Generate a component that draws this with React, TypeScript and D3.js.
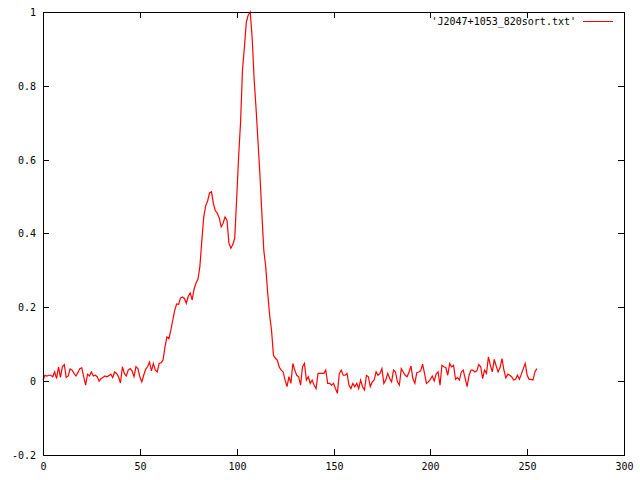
import React from 'react'
import * as d3 from 'd3'

// normalised pulse profile, one value per bin (bin = index)
const intensity: number[] = [
  0.003, 0.016, 0.014, 0.016, 0.016, 0.012, 0.025, 0.007, 0.039, 0.010,
  0.039, 0.045, 0.010, 0.014, 0.033, 0.030, 0.021, 0.014, 0.023, 0.034,
  0.036, 0.012, -0.011, 0.019, 0.014, 0.025, 0.014, 0.016, 0.012, 0.000,
  0.007, 0.010, 0.014, 0.012, 0.015, 0.019, 0.010, 0.025, 0.021, 0.012,
  -0.005, 0.039, 0.021, 0.014, 0.030, 0.034, 0.028, 0.012, 0.039, 0.034,
  0.012, -0.002, 0.016, 0.032, 0.039, 0.052, 0.028, 0.048, 0.030, 0.025,
  0.048, 0.050, 0.057, 0.093, 0.120, 0.115, 0.138, 0.165, 0.192, 0.209,
  0.208, 0.225, 0.228, 0.224, 0.211, 0.230, 0.239, 0.220, 0.249, 0.266,
  0.276, 0.310, 0.380, 0.445, 0.475, 0.488, 0.510, 0.513, 0.480, 0.462,
  0.455, 0.442, 0.418, 0.428, 0.445, 0.436, 0.374, 0.360, 0.370, 0.387,
  0.495, 0.607, 0.700, 0.843, 0.905, 0.973, 0.992, 1.000, 0.930, 0.820,
  0.740, 0.650, 0.560, 0.455, 0.355, 0.310, 0.240, 0.180, 0.138, 0.070,
  0.062, 0.057, 0.038, 0.030, 0.025, 0.003, -0.015, 0.012, -0.006, 0.048,
  0.030, 0.016, 0.012, -0.011, 0.039, 0.048, 0.003, 0.012, -0.006, 0.003,
  -0.011, -0.020, 0.021, 0.021, 0.021, 0.021, 0.030, -0.006, -0.006, -0.011,
  -0.006, -0.020, -0.033, 0.021, 0.030, 0.016, 0.016, 0.021, -0.011, -0.020,
  -0.006, -0.015, -0.006, -0.020, 0.003, -0.015, -0.024, 0.016, 0.012, -0.015,
  -0.002, 0.003, 0.025, 0.016, 0.021, 0.034, -0.006, 0.003, 0.021, 0.007,
  -0.002, 0.030, 0.025, -0.002, -0.011, 0.034, 0.025, 0.016, 0.012, 0.025,
  0.041, 0.007, -0.006, 0.023, 0.025, 0.028, 0.046, 0.021, -0.006, -0.002,
  0.005, 0.014, 0.001, 0.019, 0.025, -0.011, 0.043, 0.039, 0.037, 0.016,
  0.048, 0.039, 0.043, 0.005, 0.010, 0.003, 0.025, 0.030, 0.007, -0.015,
  0.016, 0.030, 0.030, 0.025, 0.028, 0.045, 0.039, 0.007, 0.030, 0.021,
  0.066, 0.043, 0.025, 0.059, 0.041, 0.025, 0.037, 0.061, 0.030, 0.009,
  0.019, 0.016, 0.012, 0.003, 0.005, 0.016, 0.005, 0.019, 0.034, 0.048,
  0.016, 0.005, 0.005, 0.003, 0.025, 0.034,
]

const xTicks = [0, 50, 100, 150, 200, 250, 300]
const yTicks = [-0.2, 0, 0.2, 0.4, 0.6, 0.8, 1]
const seriesTitle = "'J2047+1053_820sort.txt'"

const ProfileChart = () => {
  const svgRef = React.useRef<SVGSVGElement>(null)
  const width = 640
  const height = 480
  const left = 43
  const right = 624
  const top = 12
  const bottom = 455
  const font = '"DejaVu Sans Mono", monospace'

  React.useEffect(() => {
    const svg = d3.select(svgRef.current)
    svg.selectAll('*').remove()

    const x = d3.scaleLinear().domain([0, 300]).range([left, right])
    const y = d3.scaleLinear().domain([-0.2, 1]).range([bottom, top])

    svg.append('rect')
      .attr('width', width)
      .attr('height', height)
      .attr('fill', 'white')

    const tickLen = 6

    // y ticks on both sides (mirrored)
    const yt = svg.append('g')
    yTicks.forEach((t) => {
      const py = Math.round(y(t)) + 0.5
      yt.append('line').attr('x1', left).attr('x2', left + tickLen).attr('y1', py).attr('y2', py)
      yt.append('line').attr('x1', right - tickLen).attr('x2', right).attr('y1', py).attr('y2', py)
      yt.append('text')
        .attr('x', 36)
        .attr('y', py)
        .attr('dy', '0.35em')
        .attr('text-anchor', 'end')
        .text(d3.format('~g')(t).replace('−', '-'))
    })

    const xt = svg.append('g')
    xTicks.forEach((t) => {
      const px = Math.round(x(t)) + 0.5
      xt.append('line').attr('x1', px).attr('x2', px).attr('y1', bottom).attr('y2', bottom - tickLen)
      xt.append('line').attr('x1', px).attr('x2', px).attr('y1', top).attr('y2', top + tickLen)
      xt.append('text')
        .attr('x', px)
        .attr('y', 470)
        .attr('text-anchor', 'middle')
        .text(t)
    })

    svg.selectAll('line').attr('stroke', 'black').attr('stroke-width', 1)
    svg.selectAll('text')
      .style('font-family', font)
      .style('font-size', '10px')
      .attr('fill', 'black')

    const line = d3.line<number>()
      .x((_, i) => x(i))
      .y((d) => y(d))

    svg.append('path')
      .datum(intensity)
      .attr('d', line)
      .attr('fill', 'none')
      .attr('stroke', '#ff0000')
      .attr('stroke-width', 1.2)

    // frame
    svg.append('rect')
      .attr('x', left + 0.5)
      .attr('y', top + 0.5)
      .attr('width', right - left)
      .attr('height', bottom - top)
      .attr('fill', 'none')
      .attr('stroke', 'black')

    // key
    const key = svg.append('g')
    key.append('text')
      .attr('x', 576)
      .attr('y', 25)
      .attr('text-anchor', 'end')
      .style('font-family', font)
      .style('font-size', '10px')
      .text(seriesTitle)
    key.append('line')
      .attr('x1', 583)
      .attr('x2', 613)
      .attr('y1', 21.5)
      .attr('y2', 21.5)
      .attr('stroke', '#ff0000')
  }, [])

  return (
    <svg
      ref={svgRef}
      width={width}
      height={height}
      style={{ position: 'absolute', left: 0, top: 0, display: 'block' }}
    />
  )
}

export default function App() {
  return <ProfileChart />
}
